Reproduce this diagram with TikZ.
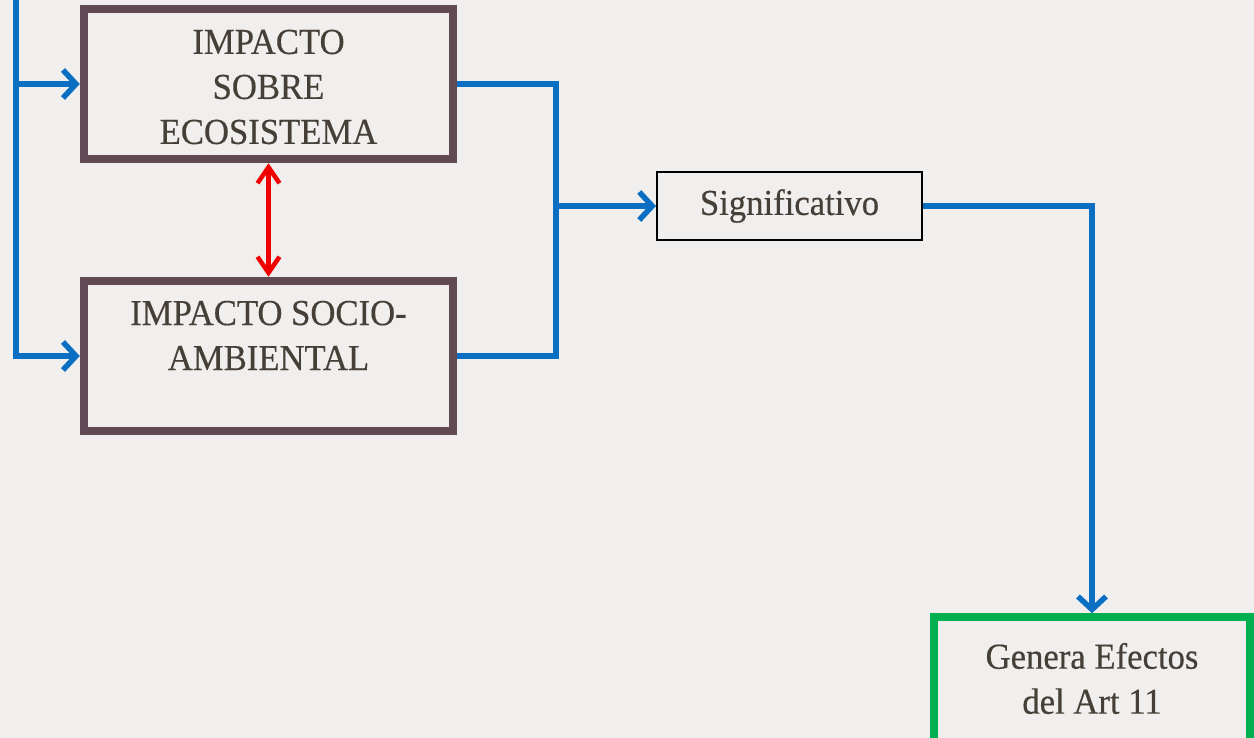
\documentclass[tikz,border=0pt]{standalone}
\usepackage{fontspec}
\setmainfont{Liberation Serif}[FakeStretch=0.95, FakeBold=0.4]
\usetikzlibrary{arrows.meta}
\definecolor{bgcol}{HTML}{F0EFED}
\definecolor{txtcol}{HTML}{463F37}
\definecolor{boxcol}{HTML}{614A54}
\definecolor{flowblue}{HTML}{0A6FC2}
\definecolor{gencol}{HTML}{00B050}
\definecolor{linkred}{HTML}{F00000}
\tikzset{
  impactbox/.style={draw=boxcol, line width=8.5pt, minimum width=369pt, minimum height=150pt, inner sep=0pt},
  sigbox/.style={draw=black, line width=2pt, minimum width=265pt, minimum height=68pt, inner sep=0pt},
  genbox/.style={draw=gencol, line width=7.5pt, minimum width=316pt, minimum height=126pt, inner sep=0pt},
  lbl/.style={text=txtcol, font=\fontsize{36.5pt}{45pt}\selectfont, align=center, inner sep=0pt},
  flow/.style={draw=flowblue, line width=5.5pt},
  flowarrow/.style={flow, -{Straight Barb[length=13pt, width=28pt, line width=5.5pt]}},
  redlink/.style={draw=linkred, line width=4.5pt, {Straight Barb[length=16pt, width=22pt, line width=4.5pt]}-{Straight Barb[length=16pt, width=22pt, line width=4.5pt]}}
}
\begin{document}
\begin{tikzpicture}[x=1pt, y=-1pt]
\useasboundingbox (0,0) rectangle (1254,738);
\fill[bgcol] (0,0) rectangle (1254,738);
\clip (0,0) rectangle (1254,738);
% boxes
\node[impactbox] (b1) at (268.5,84) {};
\node[lbl] (b1t) at (268.5,87) {IMPACTO\\SOBRE\\ECOSISTEMA};
\node[impactbox] (b2) at (268.5,356) {};
\node[lbl] (b2t) at (268.5,335.5) {IMPACTO SOCIO-\\AMBIENTAL};
\node[sigbox, lbl] (sig) at (789.5,206) {Significativo};
\node[genbox] (gen) at (1092,680) {};
\node[lbl] (gent) at (1092,678.5) {Genera Efectos\\del Art 11};
% connectors
\coordinate (ltop) at (16,-10);
\coordinate (rj) at (556,206);
\draw[flowarrow] (ltop) |- (b1.west);
\draw[flowarrow] (ltop) |- (b2.west);
\draw[flow] (b1.east) -| (rj);
\draw[flow] (b2.east) -| (rj);
\draw[flowarrow] (rj) -- (sig.west);
\draw[flowarrow] (sig.east) -| (gen.north);
\draw[redlink] (b1.south) -- (b2.north);
\end{tikzpicture}
\end{document}
